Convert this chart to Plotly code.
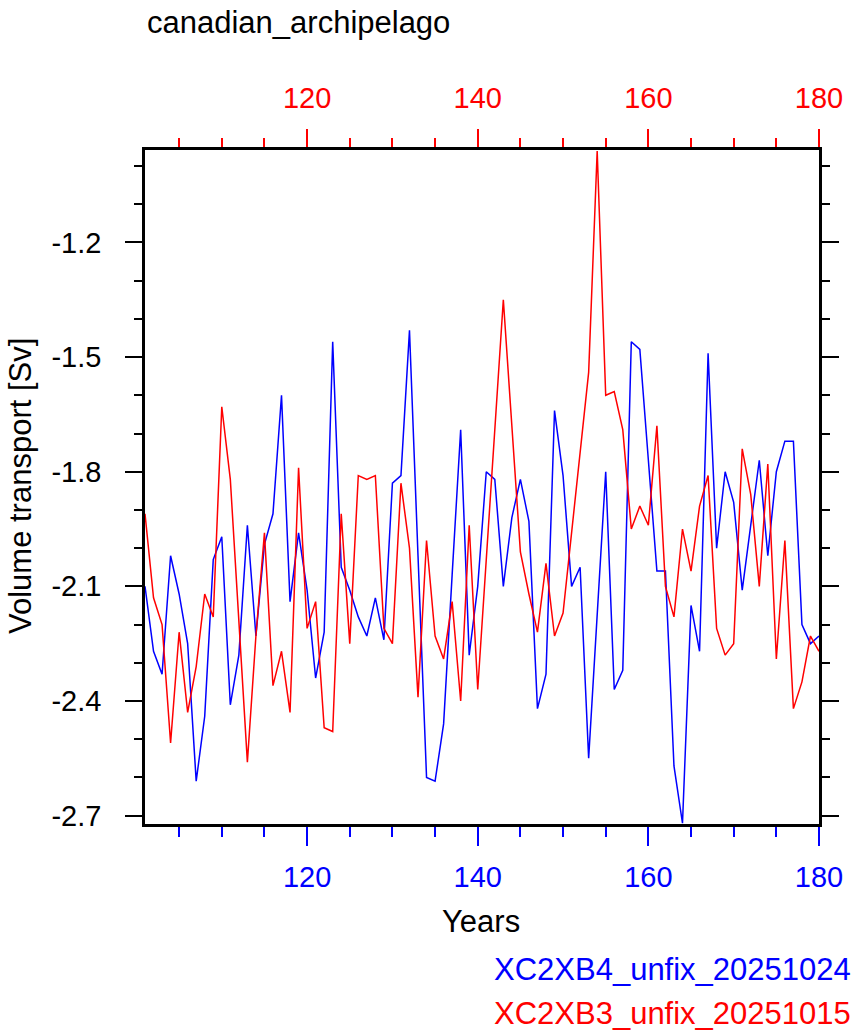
import plotly.graph_objects as go

years = list(range(101, 181))

xc2xb4 = [
    -2.10, -2.27, -2.33, -2.02, -2.12, -2.25, -2.61, -2.44, -2.03, -1.97,
    -2.41, -2.28, -1.94, -2.23, -1.99, -1.91, -1.60, -2.14, -1.96, -2.11,
    -2.34, -2.22, -1.46, -2.05, -2.11, -2.18, -2.23, -2.13, -2.24, -1.83,
    -1.81, -1.43, -2.02, -2.60, -2.61, -2.46, -2.07, -1.69, -2.28, -2.10,
    -1.80, -1.82, -2.10, -1.92, -1.82, -1.93, -2.42, -2.33, -1.64, -1.81,
    -2.10, -2.05, -2.55, -2.17, -1.80, -2.37, -2.32, -1.46, -1.48, -1.77,
    -2.06, -2.06, -2.57, -2.72, -2.15, -2.27, -1.49, -2.00, -1.80, -1.88,
    -2.11, -1.94, -1.77, -2.02, -1.80, -1.72, -1.72, -2.20, -2.25, -2.23,
]

xc2xb3 = [
    -1.91, -2.13, -2.20, -2.51, -2.22, -2.43, -2.31, -2.12, -2.18, -1.63,
    -1.82, -2.19, -2.56, -2.23, -1.96, -2.36, -2.27, -2.43, -1.79, -2.21,
    -2.14, -2.47, -2.48, -1.91, -2.25, -1.81, -1.82, -1.81, -2.21, -2.25,
    -1.83, -2.00, -2.39, -1.98, -2.23, -2.29, -2.14, -2.40, -1.94, -2.37,
    -2.04, -1.69, -1.35, -1.68, -2.01, -2.12, -2.22, -2.04, -2.23, -2.17,
    -1.96, -1.75, -1.54, -0.961, -1.60, -1.59, -1.69, -1.95, -1.89, -1.94,
    -1.68, -2.10, -2.18, -1.95, -2.06, -1.89, -1.81, -2.21, -2.28, -2.25,
    -1.74, -1.86, -2.10, -1.78, -2.29, -1.98, -2.42, -2.35, -2.23, -2.27,
]

x_ticks = [120, 140, 160, 180]
y_ticks = [-1.2, -1.5, -1.8, -2.1, -2.4, -2.7]
y_tick_text = ["-1.2", "-1.5", "-1.8", "-2.1", "-2.4", "-2.7"]

title_text = "canadian_archipelago"
x_title = "Years"
y_title = "Volume transport [Sv]"
name_b = "XC2XB4_unfix_20251024"
name_r = "XC2XB3_unfix_20251015"

BLUE = "#0000FF"
RED = "#FF0000"
FONT = "Liberation Sans, Helvetica, Arial, sans-serif"

L, R, T, B = 145, 39, 150, 212
W, H = 858, 1036
PW, PH = W - L - R, H - T - B


def px_x(px):
    return (px - L) / PW


def px_y(py):
    return (H - B - py) / PH


fig = go.Figure()
fig.add_trace(go.Scatter(x=years, y=xc2xb4, mode="lines", name=name_b,
                         line=dict(color=BLUE, width=1.5), xaxis="x", yaxis="y"))
fig.add_trace(go.Scatter(x=years, y=xc2xb3, mode="lines", name=name_r,
                         line=dict(color=RED, width=1.5), xaxis="x2", yaxis="y"))

xr = [101, 180]
yr = [-2.722, -0.958]

fig.update_layout(
    width=W, height=H,
    margin=dict(l=L, r=R, t=T, b=B, pad=0),
    paper_bgcolor="white", plot_bgcolor="white",
    showlegend=False,
    font=dict(family=FONT, color="black", size=29),
    xaxis=dict(
        range=xr, tickmode="array", tickvals=x_ticks, ticktext=[str(v) for v in x_ticks],
        ticks="outside", ticklen=19, tickwidth=2, tickcolor=BLUE,
        tickfont=dict(color=BLUE, size=29, family=FONT),
        minor=dict(dtick=5, tick0=0, ticks="outside", ticklen=10, tickwidth=1.5, tickcolor=BLUE),
        showline=True, linecolor="black", linewidth=2.5, mirror=False,
        showgrid=False, zeroline=False, ticklabelstandoff=6,
    ),
    xaxis2=dict(
        range=xr, overlaying="x", side="top", anchor="y",
        tickmode="array", tickvals=x_ticks, ticktext=[str(v) for v in x_ticks],
        ticks="outside", ticklen=18, tickwidth=2, tickcolor=RED,
        tickfont=dict(color=RED, size=29, family=FONT),
        minor=dict(dtick=5, tick0=0, ticks="outside", ticklen=9, tickwidth=1.5, tickcolor=RED),
        showline=True, linecolor="black", linewidth=2.5,
        showgrid=False, zeroline=False, ticklabelstandoff=10,
    ),
    yaxis=dict(
        range=yr, tickmode="array", tickvals=y_ticks, ticktext=y_tick_text,
        ticks="outside", ticklen=17, tickwidth=2, tickcolor="black",
        tickfont=dict(color="black", size=29, family=FONT),
        minor=dict(dtick=0.1, tick0=-1.2, ticks="outside", ticklen=8, tickwidth=1.5, tickcolor="black"),
        showline=True, linecolor="black", linewidth=2.5, mirror="ticks",
        showgrid=False, zeroline=False, ticklabelstandoff=18,
    ),
    annotations=[
        dict(text=title_text, xref="paper", yref="paper", x=px_x(145), y=px_y(22),
             xanchor="left", yanchor="middle", showarrow=False,
             font=dict(size=31, color="black", family=FONT)),
        dict(text=x_title, xref="paper", yref="paper", x=px_x(481), y=px_y(921),
             xanchor="center", yanchor="middle", showarrow=False,
             font=dict(size=31, color="black", family=FONT)),
        dict(text=y_title, xref="paper", yref="paper", x=px_x(20), y=px_y(486),
             xanchor="center", yanchor="middle", showarrow=False, textangle=-90,
             font=dict(size=31, color="black", family=FONT)),
        dict(text=name_b, xref="paper", yref="paper", x=px_x(853), y=px_y(969),
             xanchor="right", yanchor="middle", showarrow=False,
             font=dict(size=31, color=BLUE, family=FONT)),
        dict(text=name_r, xref="paper", yref="paper", x=px_x(853), y=px_y(1013),
             xanchor="right", yanchor="middle", showarrow=False,
             font=dict(size=31, color=RED, family=FONT)),
    ],
)

fig.write_html("out.html")
